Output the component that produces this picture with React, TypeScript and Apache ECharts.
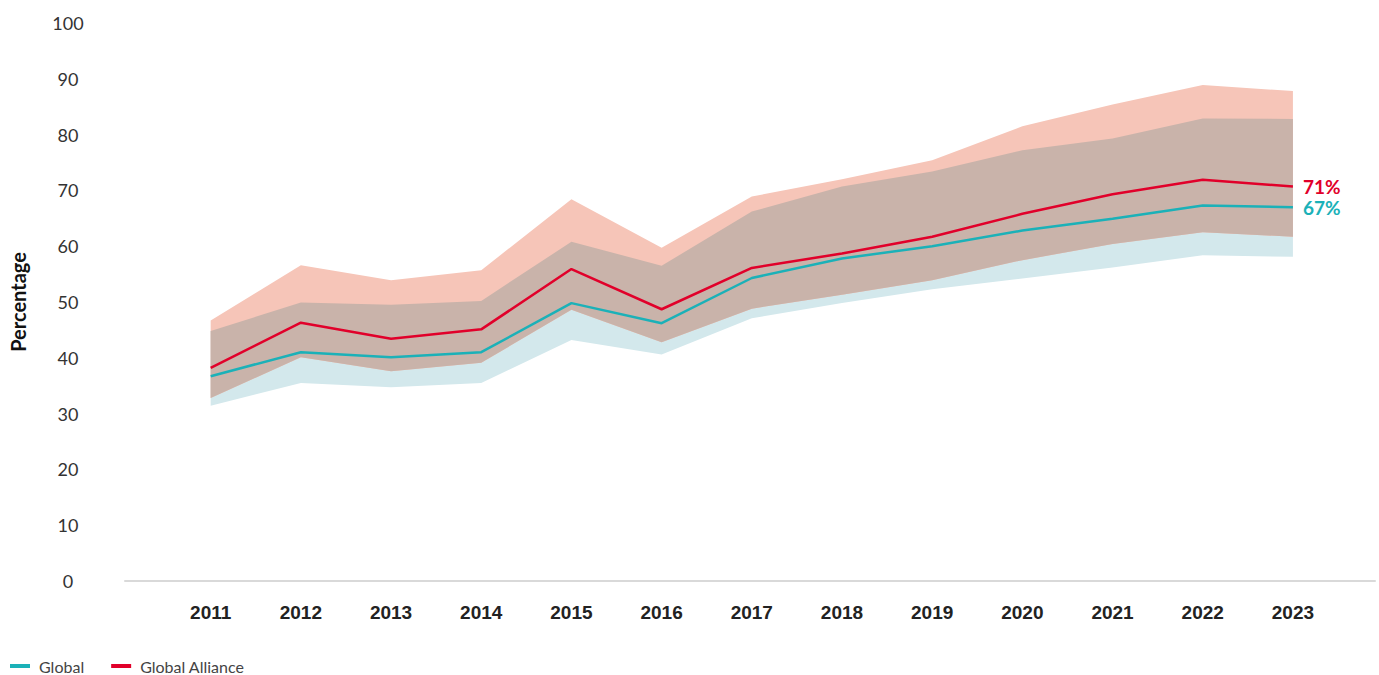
import React, { useEffect, useRef } from "react";
import * as echarts from "echarts";

const years = [2011, 2012, 2013, 2014, 2015, 2016, 2017, 2018, 2019, 2020, 2021, 2022, 2023];
const allianceHigh = [46.7, 56.6, 53.9, 55.7, 68.4, 59.7, 68.9, 72.0, 75.4, 81.5, 85.4, 88.9, 87.8];
const globalHigh = [44.8, 49.9, 49.5, 50.2, 60.8, 56.5, 66.2, 70.7, 73.4, 77.2, 79.3, 82.9, 82.8];
const alliance = [38.2, 46.3, 43.4, 45.1, 55.9, 48.7, 56.1, 58.7, 61.7, 65.8, 69.3, 71.9, 70.7];
const globalVals = [36.7, 41.0, 40.1, 41.0, 49.8, 46.2, 54.3, 57.8, 60.0, 62.8, 64.9, 67.3, 67.0];
const allianceLow = [32.8, 40.1, 37.6, 39.1, 48.6, 42.8, 48.8, 51.3, 53.9, 57.5, 60.4, 62.5, 61.7];
const globalLow = [31.4, 35.5, 34.7, 35.5, 43.2, 40.6, 47.1, 49.8, 52.3, 54.2, 56.2, 58.4, 58.1];
const yTicks = [0, 10, 20, 30, 40, 50, 60, 70, 80, 90, 100];

const RED = "#e1002a";
const TEAL = "#1bb1b8";

export default function App() {
  const ref = useRef<HTMLDivElement>(null);
  useEffect(() => {
    if (!ref.current) return;
    const chart = echarts.init(ref.current, null, { renderer: "svg" });
    const pair = (arr: number[]) => years.map((y, i) => [y, arr[i]]);

    // Band polygon between a lower and an upper series, drawn through the axes (api.coord).
    const band = (name: string, lower: number[], upper: number[], color: string, z: number) => ({
      type: "custom",
      name,
      silent: true,
      z,
      data: years.map((y, i) => [y, lower[i], upper[i]]),
      encode: { x: 0, y: [1, 2] },
      renderItem: (params: any, api: any) => {
        if (params.dataIndex !== 0) return null;
        const top = years.map((y, i) => api.coord([y, upper[i]]));
        const bottom = years.map((y, i) => api.coord([y, lower[i]])).reverse();
        return {
          type: "polygon",
          shape: { points: top.concat(bottom) },
          style: { fill: color, stroke: null },
        };
      },
    });

    chart.setOption({
      animation: false,
      grid: { left: 125, right: 4, top: 23, bottom: 94, outerBoundsMode: "none", containLabel: false },
      legend: {
        left: 10,
        top: 658,
        padding: 0,
        itemWidth: 20,
        itemHeight: 4,
        itemGap: 27,
        icon: "rect",
        data: ["Global", "Global Alliance"],
        textStyle: { fontFamily: "Lato", fontSize: 16, color: "#444", padding: [0, 0, 0, 4] },
      },
      xAxis: {
        type: "value",
        min: 2010.05,
        max: 2023.91,
        z: 10,
        splitLine: { show: false },
        axisTick: { show: false },
        axisLine: { show: true, lineStyle: { color: "#d9d9d9", width: 2 } },
        axisLabel: {
          customValues: years,
          margin: 22,
          fontFamily: "Liberation Sans",
          fontWeight: "bold",
          fontSize: 19,
          color: "#222",
          formatter: (v: number) => String(Math.round(v)),
        },
      },
      yAxis: {
        type: "value",
        min: 0,
        max: 100,
        interval: 10,
        name: "Percentage",
        nameLocation: "middle",
        nameGap: 97,
        nameRotate: 90,
        nameTextStyle: { fontFamily: "Lato", fontWeight: "bold", fontSize: 20, color: "#111" },
        splitLine: { show: false },
        axisLine: { show: false },
        axisTick: { show: false },
        axisLabel: {
          customValues: yTicks,
          margin: 57,
          align: "center",
          fontFamily: "Lato",
          fontSize: 18,
          color: "#333",
        },
      },
      series: [
        band("globalBand", globalLow, globalHigh, "#d3e8ec", 1),
        band("allianceBand", allianceLow, allianceHigh, "#f6c5b8", 2),
        band("overlap", allianceLow, globalHigh, "#c9b3aa", 3),
        {
          type: "line",
          name: "Global",
          data: pair(globalVals),
          symbol: "none",
          color: TEAL,
          lineStyle: { width: 2.5, color: TEAL },
          z: 5,
          endLabel: {
            show: true,
            distance: 10,
            formatter: (p: any) => Math.round(p.value[1]) + "%",
            fontFamily: "Lato",
            fontWeight: "bold",
            fontSize: 19,
            color: TEAL,
          },
        },
        {
          type: "line",
          name: "Global Alliance",
          data: pair(alliance),
          symbol: "none",
          color: RED,
          lineStyle: { width: 2.5, color: RED },
          z: 6,
          endLabel: {
            show: true,
            distance: 10,
            formatter: (p: any) => Math.round(p.value[1]) + "%",
            fontFamily: "Lato",
            fontWeight: "bold",
            fontSize: 19,
            color: RED,
          },
        },
      ],
    });
    return () => chart.dispose();
  }, []);
  return (
    <div
      ref={ref}
      style={{ position: "fixed", left: 0, top: 0, width: 1379, height: 675, background: "#fff" }}
    />
  );
}
